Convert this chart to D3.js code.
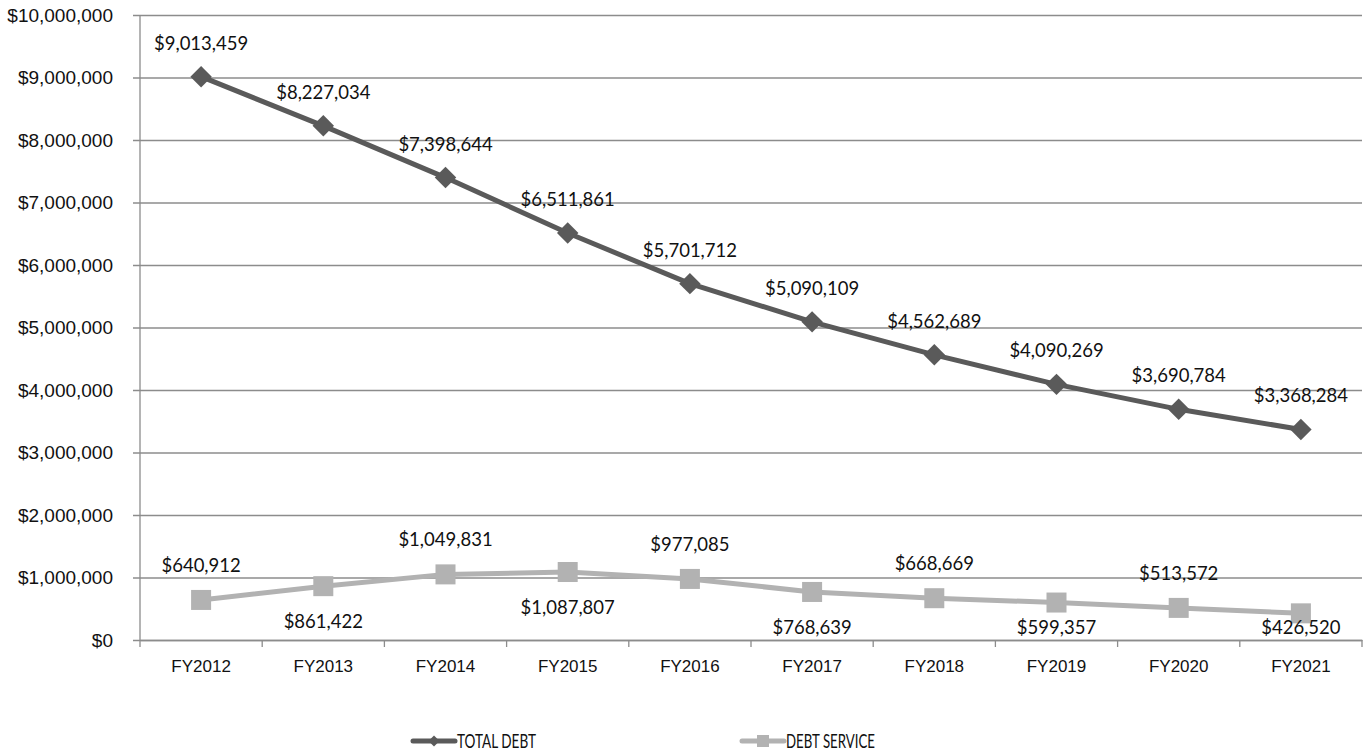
<!DOCTYPE html>
<html>
<head>
<meta charset="utf-8">
<script src="https://cdn.jsdelivr.net/npm/d3@7"></script>
<style>
  html, body { margin: 0; padding: 0; background: #fff; }
  svg { display: block; font-family: Lato, "Open Sans", sans-serif; }
</style>
</head>
<body>
<svg id="chart" width="1369" height="752"></svg>
<script>
// Fiscal years and series values
const years = ["FY2012", "FY2013", "FY2014", "FY2015", "FY2016", "FY2017", "FY2018", "FY2019", "FY2020", "FY2021"];
const totalDebt = [9013459, 8227034, 7398644, 6511861, 5701712, 5090109, 4562689, 4090269, 3690784, 3368284];
const debtService = [640912, 861422, 1049831, 1087807, 977085, 768639, 668669, 599357, 513572, 426520];
// Debt service labels alternate above (1) and below (-1) the points
const serviceLabelSide = [1, -1, 1, -1, 1, -1, 1, -1, 1, -1];
const yTicks = [0, 1000000, 2000000, 3000000, 4000000, 5000000, 6000000, 7000000, 8000000, 9000000, 10000000];
const seriesNames = ["TOTAL DEBT", "DEBT SERVICE"];

const darkColor = "#5a5a5a";
const lightColor = "#b2b2b2";
const gridColor = "#8c8c8c";

const svg = d3.select("#chart");
const margin = { left: 140, right: 7, top: 15, bottom: 112 };
const W = 1369, H = 752;
const innerW = W - margin.left - margin.right;
const innerH = H - margin.top - margin.bottom;

const g = svg.append("g").attr("transform", `translate(${margin.left},${margin.top})`);

const x = d3.scaleBand().domain(years).range([0, innerW]);
const y = d3.scaleLinear().domain([0, 10000000]).range([innerH, 0]);
const xc = d => x(d) + x.bandwidth() / 2;

const fmt = v => "$" + d3.format(",")(v);

// Horizontal gridlines with left tick stubs
const yAxis = d3.axisLeft(y).tickValues(yTicks).tickSize(-innerW).tickSizeOuter(0).tickPadding(27).tickFormat(fmt);
const yg = g.append("g").call(yAxis);
yg.select(".domain").remove();
yg.selectAll(".tick line").attr("stroke", gridColor).attr("stroke-width", 1.3).attr("x1", -7);
yg.selectAll(".tick text").attr("fill", "#111").style("font-size", "19px");

// Vertical axis line
g.append("line").attr("x1", 0).attr("x2", 0).attr("y1", 0).attr("y2", innerH)
  .attr("stroke", gridColor).attr("stroke-width", 1.3);

// Category axis with ticks at band edges
const xg = g.append("g").attr("transform", `translate(0,${innerH})`)
  .call(d3.axisBottom(x).tickSize(0).tickPadding(20));
xg.select(".domain").attr("stroke", gridColor).attr("stroke-width", 1.3);
xg.selectAll(".tick text").attr("fill", "#111").style("font-size", "17px");
const edges = years.map(d => x(d)).concat([x(years[years.length - 1]) + x.bandwidth()]);
xg.selectAll("line.edge").data(edges).join("line").attr("class", "edge")
  .attr("x1", d => d).attr("x2", d => d).attr("y1", 0).attr("y2", 7)
  .attr("stroke", gridColor).attr("stroke-width", 1.3);

const line = d3.line().x((d, i) => xc(years[i])).y(d => y(d));

// Total debt series
g.append("path").datum(totalDebt).attr("d", line).attr("fill", "none")
  .attr("stroke", darkColor).attr("stroke-width", 5).attr("stroke-linejoin", "round");
const diamond = d3.symbol().type(d3.symbolSquare).size(230);
g.selectAll("path.td").data(totalDebt).join("path").attr("class", "td")
  .attr("d", diamond())
  .attr("transform", (d, i) => `translate(${xc(years[i])},${y(d)}) rotate(45)`)
  .attr("fill", darkColor);
g.selectAll("text.tdl").data(totalDebt).join("text").attr("class", "tdl")
  .attr("x", (d, i) => xc(years[i])).attr("y", d => y(d) - 27)
  .attr("text-anchor", "middle").attr("fill", "#111").style("font-size", "18.5px")
  .text(fmt);

// Debt service series
g.append("path").datum(debtService).attr("d", line).attr("fill", "none")
  .attr("stroke", lightColor).attr("stroke-width", 5).attr("stroke-linejoin", "round");
g.selectAll("rect.ds").data(debtService).join("rect").attr("class", "ds")
  .attr("x", (d, i) => xc(years[i]) - 10).attr("y", d => y(d) - 10)
  .attr("width", 20).attr("height", 20).attr("fill", lightColor);
// Labels below the line are kept clear of the category axis
g.selectAll("text.dsl").data(debtService).join("text").attr("class", "dsl")
  .attr("x", (d, i) => xc(years[i]))
  .attr("y", (d, i) => serviceLabelSide[i] > 0 ? y(d) - 28 : Math.min(y(d) + 42, innerH - 6))
  .attr("text-anchor", "middle").attr("fill", "#111").style("font-size", "18.5px")
  .text(fmt);

// Legend (condensed caption text)
const legend = svg.append("g").attr("transform", "translate(0,741)");
const legendItems = [
  { name: seriesNames[0], color: darkColor, x0: 413, shape: "diamond", w: 79 },
  { name: seriesNames[1], color: lightColor, x0: 742, shape: "square", w: 89 }
];
legendItems.forEach(it => {
  const lg = legend.append("g").attr("transform", `translate(${it.x0},0)`);
  lg.append("line").attr("x1", 0).attr("x2", 42).attr("y1", 0).attr("y2", 0)
    .attr("stroke", it.color).attr("stroke-width", 5).attr("stroke-linecap", "round");
  if (it.shape === "diamond") {
    lg.append("path").attr("d", d3.symbol().type(d3.symbolSquare).size(60)())
      .attr("transform", "translate(21,0) rotate(45)").attr("fill", it.color);
  } else {
    lg.append("rect").attr("x", 15).attr("y", -6).attr("width", 12).attr("height", 12).attr("fill", it.color);
  }
  lg.append("text").attr("x", 44).attr("y", 7).attr("fill", "#111")
    .style("font-size", "18.5px")
    .attr("textLength", it.w).attr("lengthAdjust", "spacingAndGlyphs")
    .text(it.name);
});
</script>
</body>
</html>
